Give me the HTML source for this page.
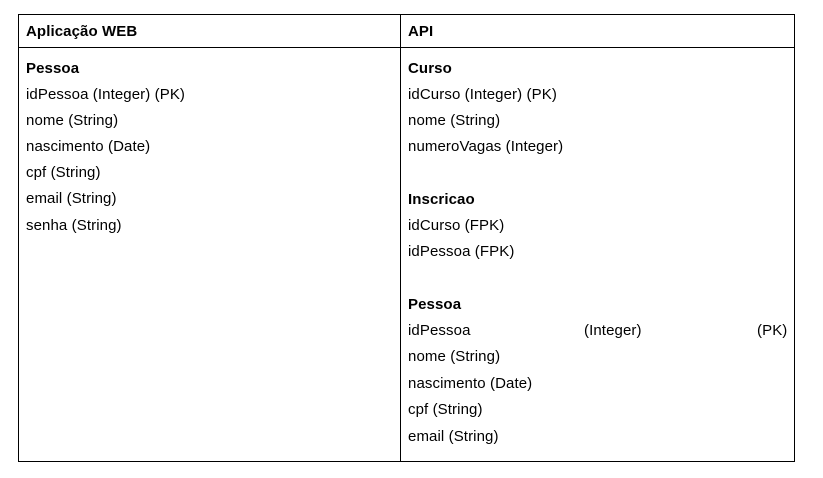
<!DOCTYPE html>
<html><head><style>
body{margin:0;width:823px;height:478px;background:#fff;position:relative;font-family:"Liberation Sans",Arial,sans-serif;font-size:15px;color:#000}
.l{position:absolute;background:#000}
.t{position:absolute;line-height:16px;white-space:nowrap;letter-spacing:0.1px}
b{font-weight:bold}
</style></head><body>
<div class="l" style="left:18px;top:14px;width:777px;height:1px"></div>
<div class="l" style="left:18px;top:47px;width:777px;height:1px"></div>
<div class="l" style="left:18px;top:461px;width:777px;height:1px"></div>
<div class="l" style="left:18px;top:14px;width:1px;height:448px"></div>
<div class="l" style="left:400px;top:14px;width:1px;height:448px"></div>
<div class="l" style="left:794px;top:14px;width:1px;height:448px"></div>

<div class="t" style="left:26px;top:24px"><b>Aplicação WEB</b></div>
<div class="t" style="left:408px;top:24px"><b>API</b></div>

<div class="t" style="left:26px;top:61px"><b>Pessoa</b></div>
<div class="t" style="left:26px;top:87px">idPessoa (Integer) (PK)</div>
<div class="t" style="left:26px;top:113px">nome (String)</div>
<div class="t" style="left:26px;top:139px">nascimento (Date)</div>
<div class="t" style="left:26px;top:165px">cpf (String)</div>
<div class="t" style="left:26px;top:191px">email (String)</div>
<div class="t" style="left:26px;top:218px">senha (String)</div>

<div class="t" style="left:408px;top:61px"><b>Curso</b></div>
<div class="t" style="left:408px;top:87px">idCurso (Integer) (PK)</div>
<div class="t" style="left:408px;top:113px">nome (String)</div>
<div class="t" style="left:408px;top:139px">numeroVagas (Integer)</div>
<div class="t" style="left:408px;top:192px"><b>Inscricao</b></div>
<div class="t" style="left:408px;top:218px">idCurso (FPK)</div>
<div class="t" style="left:408px;top:244px">idPessoa (FPK)</div>
<div class="t" style="left:408px;top:297px"><b>Pessoa</b></div>
<div class="t" style="left:408px;top:323px">idPessoa</div>
<div class="t" style="left:584px;top:323px">(Integer)</div>
<div class="t" style="left:757px;top:323px">(PK)</div>
<div class="t" style="left:408px;top:349px">nome (String)</div>
<div class="t" style="left:408px;top:376px">nascimento (Date)</div>
<div class="t" style="left:408px;top:402px">cpf (String)</div>
<div class="t" style="left:408px;top:429px">email (String)</div>
</body></html>
